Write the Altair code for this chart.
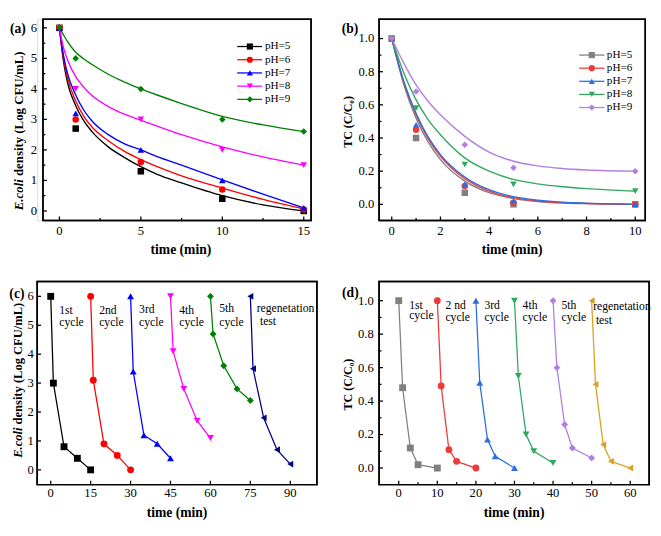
import altair as alt
import pandas as pd

FONT = "Liberation Serif"

# ---------------- (a) E. coli density vs time at different pH ----------------
A_NAMES = ["pH=5", "pH=6", "pH=7", "pH=8", "pH=9"]
A_COLORS = ["#000000", "#ff0000", "#0000ff", "#ff00ff", "#008000"]
A_SHAPES = ["square", "circle", "triangle-up", "triangle-down", "diamond"]
A_T = [0, 1, 5, 10, 15]
A_PH5 = [6, 2.7, 1.3, 0.4, 0.0]
A_PH6 = [6, 3.0, 1.6, 0.7, 0.05]
A_PH7 = [6, 3.2, 2.0, 1.0, 0.1]
A_PH8 = [6, 4.0, 3.0, 2.0, 1.5]
A_PH9 = [6, 5.0, 4.0, 3.0, 2.6]
A_FIT_T = [0, 0.25, 0.5, 1, 1.5, 2, 3, 4, 5, 6, 7.5, 10, 12.5, 15]
A_FIT5 = [6, 4.9, 4.2, 3.45, 2.95, 2.6, 2.1, 1.75, 1.45, 1.2, 0.92, 0.5, 0.2, 0.0]
A_FIT6 = [6, 5.0, 4.35, 3.6, 3.1, 2.75, 2.3, 1.95, 1.68, 1.45, 1.15, 0.75, 0.38, 0.07]
A_FIT7 = [6, 5.1, 4.5, 3.8, 3.3, 2.95, 2.5, 2.2, 2.0, 1.78, 1.5, 1.02, 0.55, 0.1]
A_FIT8 = [6, 5.35, 4.95, 4.4, 4.05, 3.78, 3.42, 3.17, 2.97, 2.78, 2.5, 2.1, 1.77, 1.5]
A_FIT9 = [6, 5.77, 5.55, 5.2, 4.98, 4.8, 4.48, 4.22, 4.0, 3.8, 3.52, 3.1, 2.82, 2.6]
A_XTICKS = [0, 5, 10, 15]
A_XMINOR = [2.5, 7.5, 12.5]
A_YTICKS = [0, 1, 2, 3, 4, 5, 6]
A_YMINOR = [0.5, 1.5, 2.5, 3.5, 4.5, 5.5]

# ---------------- (b) TC removal vs time at different pH ----------------
B_NAMES = ["pH=5", "pH=6", "pH=7", "pH=8", "pH=9"]
B_COLORS = ["#808080", "#ee3a3a", "#2a6ee0", "#30a860", "#b27ee2"]
B_SHAPES = ["square", "circle", "triangle-up", "triangle-down", "diamond"]
B_T = [0, 1, 3, 5, 10]
B_PH5 = [1, 0.40, 0.07, 0.00, 0.00]
B_PH6 = [1, 0.45, 0.11, 0.01, 0.00]
B_PH7 = [1, 0.48, 0.12, 0.02, 0.00]
B_PH8 = [1, 0.58, 0.24, 0.12, 0.08]
B_PH9 = [1, 0.68, 0.36, 0.22, 0.20]
B_FIT_T = [0, 0.5, 1, 1.5, 2, 3, 4, 5, 6, 7, 8, 10]
B_FIT5 = [1, 0.72, 0.52, 0.375, 0.27, 0.14, 0.07, 0.035, 0.017, 0.008, 0.004, 0.0]
B_FIT6 = [1, 0.735, 0.54, 0.395, 0.29, 0.155, 0.08, 0.04, 0.02, 0.01, 0.005, 0.0]
B_FIT7 = [1, 0.74, 0.55, 0.405, 0.30, 0.165, 0.088, 0.046, 0.025, 0.013, 0.007, 0.0]
B_FIT8 = [1, 0.79, 0.63, 0.51, 0.42, 0.28, 0.2, 0.15, 0.123, 0.106, 0.095, 0.08]
B_FIT9 = [1, 0.85, 0.72, 0.62, 0.54, 0.41, 0.315, 0.26, 0.232, 0.216, 0.207, 0.20]
B_XTICKS = [0, 2, 4, 6, 8, 10]
B_XMINOR = [1, 3, 5, 7, 9]
B_YTICKS = [0, 0.2, 0.4, 0.6, 0.8, 1.0]
B_YMINOR = [0.1, 0.3, 0.5, 0.7, 0.9]

# ---------------- (c) E. coli cycles ----------------
C_NAMES = ["1st", "2nd", "3rd", "4th", "5th", "regen"]
C_COLORS = ["#000000", "#ff0000", "#0000ff", "#ff00ff", "#008000", "#000080"]
C_SHAPES = ["square", "circle", "triangle-up", "triangle-down", "diamond", "triangle-left"]
C_T = [[0, 1, 5, 10, 15], [15, 16, 20, 25, 30], [30, 31, 35, 40, 45],
       [45, 46, 50, 55, 60], [60, 61, 65, 70, 75], [75, 76, 80, 85, 90]]
C_Y = [[6, 3.0, 0.8, 0.4, 0.0], [6, 3.1, 0.9, 0.5, 0.0], [6, 3.4, 1.2, 0.9, 0.4],
       [6, 4.1, 2.8, 1.7, 1.1], [6, 4.7, 3.6, 2.8, 2.4], [6, 3.5, 1.8, 0.7, 0.2]]
C_NOTE_TEXT = ["1st", "cycle", "2nd", "cycle", "3rd", "cycle", "4th", "cycle", "5th", "cycle",
               "regenetation", "test"]
C_NOTE_X = [3.2, 3.2, 18.2, 18.2, 33.2, 33.2, 48.3, 48.3, 63.3, 63.3, 77.4, 78.6]
C_NOTE_Y = [5.52, 5.10, 5.52, 5.10, 5.55, 5.10, 5.52, 5.10, 5.58, 5.10, 5.61, 5.13]
C_XTICKS = [0, 15, 30, 45, 60, 75, 90]
C_YTICKS = [0, 1, 2, 3, 4, 5, 6]

# ---------------- (d) TC cycles ----------------
D_NAMES = ["1st", "2nd", "3rd", "4th", "5th", "regen"]
D_COLORS = ["#808080", "#ee3a3a", "#2a6ee0", "#30a860", "#b27ee2", "#d9a21e"]
D_SHAPES = ["square", "circle", "triangle-up", "triangle-down", "diamond", "triangle-left"]
D_T = [[0, 1, 3, 5, 10], [10, 11, 13, 15, 20], [20, 21, 23, 25, 30],
       [30, 31, 33, 35, 40], [40, 41, 43, 45, 50], [50, 51, 53, 55, 60]]
D_Y = [[1, 0.48, 0.12, 0.02, 0.00], [1, 0.49, 0.11, 0.04, 0.00], [1, 0.51, 0.17, 0.07, 0.00],
       [1, 0.55, 0.20, 0.10, 0.03], [1, 0.60, 0.26, 0.12, 0.06], [1, 0.50, 0.14, 0.04, 0.00]]
D_NOTE_TEXT = ["1st", "cycle", "2 nd", "cycle", "3rd", "cycle", "4th", "cycle", "5th", "cycle",
               "regenetation", "test"]
D_NOTE_X = [2.7, 2.7, 12.1, 12.1, 22.2, 22.2, 32.1, 32.1, 42.2, 42.2, 50.4, 51.1]
D_NOTE_Y = [0.975, 0.912, 0.975, 0.9, 0.975, 0.9, 0.975, 0.9, 0.975, 0.9, 0.965, 0.885]
D_XTICKS = [0, 10, 20, 30, 40, 50, 60]
D_XMINOR = [5, 15, 25, 35, 45, 55]
D_YTICKS = [0, 0.2, 0.4, 0.6, 0.8, 1.0]
D_YMINOR = [0.1, 0.3, 0.5, 0.7, 0.9]

X_TITLE = "time (min)"

# black strokes for frame and ticks come through a one-entry stroke scale
INK = alt.Stroke("k:N", scale=alt.Scale(domain=["box"], range=["#000000"]), legend=None)


# ---------------- helpers ----------------
def long_df(key, names, xs_list, ys_list):
    rows = []
    for n, xs, ys in zip(names, xs_list, ys_list):
        for x, y in zip(xs, ys):
            rows.append({key: n, "t": x, "y": y})
    return pd.DataFrame(rows)


def fmt_labels(vals, fmt):
    return [format(v, fmt) for v in vals]


def vals_df(vals):
    return pd.DataFrame({"v": vals, "k": ["box"] * len(vals)})


def frame_layers(xs, ys, W, H, x0, x1, y0, y1, ox=0, sw=1.5):
    sides = alt.Chart(vals_df([x0, x1])).mark_rule(strokeWidth=sw).encode(
        x=alt.X("v:Q", scale=xs, axis=None), y=alt.value(-0.7), y2=alt.value(H + 0.7), stroke=INK)
    tops = alt.Chart(vals_df([y0, y1])).mark_rule(strokeWidth=sw).encode(
        y=alt.Y("v:Q", scale=ys, axis=None), x=alt.value(ox - 0.7), x2=alt.value(ox + W + 0.7),
        stroke=INK)
    path = pd.DataFrame({"fx": [x0, x1, x1, x0, x0], "fy": [y0, y0, y1, y1, y0],
                         "o": [0, 1, 2, 3, 4], "k": ["box"] * 5})
    box = alt.Chart(path).mark_line(strokeWidth=sw, strokeJoin="miter").encode(
        x=alt.X("fx:Q", scale=xs, axis=None), y=alt.Y("fy:Q", scale=ys, axis=None),
        order="o:Q", stroke=INK)
    return [box, sides, tops]


def axis_layers(xs, ys, W, H, xmaj, xmin, ymaj, ymin, yfmt, ygap, xlab_dy, title_dy,
                title_dx=0, ox=0):
    out = []
    for vals, ln in ((xmaj, 4), (xmin, 2.5)):
        if vals:
            out.append(alt.Chart(vals_df(vals)).mark_rule(strokeWidth=1.3).encode(
                x=alt.X("v:Q", scale=xs, axis=None), y=alt.value(H), y2=alt.value(H - ln),
                stroke=INK))
    for vals, ln in ((ymaj, 4), (ymin, 2.5)):
        if vals:
            out.append(alt.Chart(vals_df(vals)).mark_rule(strokeWidth=1.3).encode(
                y=alt.Y("v:Q", scale=ys, axis=None), x=alt.value(ox), x2=alt.value(ox + ln),
                stroke=INK))
    out.append(alt.Chart(pd.DataFrame({"v": xmaj, "lab": fmt_labels(xmaj, "d")})).mark_text(
        font=FONT, fontSize=13, align="center", baseline="middle", color="black").encode(
        x=alt.X("v:Q", scale=xs, axis=None), y=alt.value(H + xlab_dy), text="lab:N"))
    out.append(alt.Chart(pd.DataFrame({"v": ymaj, "lab": fmt_labels(ymaj, yfmt)})).mark_text(
        font=FONT, fontSize=13, align="right", baseline="middle", color="black").encode(
        y=alt.Y("v:Q", scale=ys, axis=None), x=alt.value(ox - ygap), text="lab:N"))
    out.append(alt.Chart(pd.DataFrame({"t": [X_TITLE]})).mark_text(
        font=FONT, fontSize=14, fontWeight="bold", align="center", baseline="middle", color="black").encode(
        x=alt.value(ox + W / 2 + title_dx), y=alt.value(H + title_dy), text="t:N"))
    return out


def label_layer(txt, x, y, size=14):
    return alt.Chart(pd.DataFrame({"t": [txt]})).mark_text(
        font=FONT, fontWeight="bold", fontSize=size, align="left", baseline="middle", color="black"
    ).encode(x=alt.value(x), y=alt.value(y), text="t:N")


def ecoli_title(x, anchor, fs):
    it = alt.Chart(pd.DataFrame({"t": ["E.coli"]})).mark_text(
        font=FONT, fontWeight="bold", fontStyle="italic", fontSize=fs, angle=270,
        align="right", baseline="middle", color="black"
    ).encode(x=alt.value(x), y=alt.value(anchor), text="t:N")
    rest = alt.Chart(pd.DataFrame({"t": ["density (Log CFU/mL)"]})).mark_text(
        font=FONT, fontWeight="bold", fontSize=fs, angle=270,
        align="left", baseline="middle", color="black"
    ).encode(x=alt.value(x), y=alt.value(anchor - 0.25 * fs), text="t:N")
    return [it, rest]


def tc_title(x, y, fs=12.3):
    return [alt.Chart(pd.DataFrame({"t": ["TC (C/C\u2080)"]})).mark_text(
        font=FONT, fontWeight="bold", fontSize=fs, angle=270,
        align="center", baseline="middle", color="black"
    ).encode(x=alt.value(x), y=alt.value(y), text="t:N")]


def legend_layers(key, names, colors, shapes, x1, x2, xm, xt, y0, dy, fs=11.5, size=40):
    df = pd.DataFrame({key: names, "row": list(range(len(names)))})
    base = alt.Chart(df).transform_calculate(py=f"{y0} + {dy} * datum.row")
    col = alt.Color(f"{key}:N", scale=alt.Scale(domain=names, range=colors), legend=None)
    shp = alt.Shape(f"{key}:N", scale=alt.Scale(domain=names, range=shapes), legend=None)
    py = alt.Y("py:Q", scale=None, axis=None)
    line = base.mark_rule(strokeWidth=1.3).encode(x=alt.value(x1), x2=alt.value(x2), y=py, color=col)
    pt = base.mark_point(filled=True, opacity=1, size=size).encode(x=alt.value(xm), y=py, color=col, shape=shp)
    tx = base.mark_text(font=FONT, fontSize=fs, align="left", baseline="middle", color="black").encode(
        x=alt.value(xt), y=py, text=f"{key}:N")
    return [line, pt, tx]


# ---------------- panel (a) ----------------
WA, HA, OXA = 276, 207, 6
XA0, XA1 = -1.01, 15.45
YA0, YA1 = -0.31, 6.28
xs_a = alt.Scale(domain=[XA0 - OXA * (XA1 - XA0) / WA, XA1], nice=False, zero=False)
ys_a = alt.Scale(domain=[YA0, YA1], nice=False, zero=False)
col_a = alt.Color("sa:N", scale=alt.Scale(domain=A_NAMES, range=A_COLORS), legend=None)
shp_a = alt.Shape("sa:N", scale=alt.Scale(domain=A_NAMES, range=A_SHAPES), legend=None)
fit_a = long_df("sa", A_NAMES, [A_FIT_T] * 5, [A_FIT5, A_FIT6, A_FIT7, A_FIT8, A_FIT9])
pts_a = long_df("sa", A_NAMES, [A_T] * 5, [A_PH5, A_PH6, A_PH7, A_PH8, A_PH9])
lines_a = alt.Chart(fit_a).mark_line(strokeWidth=1.4, interpolate="monotone").encode(
    x=alt.X("t:Q", scale=xs_a, axis=None), y=alt.Y("y:Q", scale=ys_a, axis=None), color=col_a,
    order="t:Q")
points_a = alt.Chart(pts_a).mark_point(filled=True, opacity=1, size=45).encode(
    x=alt.X("t:Q", scale=xs_a, axis=None), y=alt.Y("y:Q", scale=ys_a, axis=None),
    color=col_a, shape=shp_a)
panel_a = alt.layer(
    lines_a, points_a,
    *legend_layers("sa", A_NAMES, A_COLORS, A_SHAPES, OXA + 200, OXA + 225.5, OXA + 213,
                   OXA + 228.5, 28, 13.6),
    label_layer("(a)", OXA - 34, 10),
    *ecoli_title(OXA - 25, 164.6, 13.2),
    *axis_layers(xs_a, ys_a, WA, HA, A_XTICKS, A_XMINOR, A_YTICKS, A_YMINOR, "d", 6, 11, 30.5,
                 4, OXA),
    *frame_layers(xs_a, ys_a, WA, HA, XA0, XA1, YA0, YA1, OXA),
).properties(width=WA + OXA, height=HA)

# ---------------- panel (b) ----------------
WB, HB = 274, 207
XB0, XB1, YB0, YB1 = -0.52, 10.41, -0.097, 1.116
xs_b = alt.Scale(domain=[XB0, XB1], nice=False, zero=False)
ys_b = alt.Scale(domain=[YB0, YB1], nice=False, zero=False)
col_b = alt.Color("sb:N", scale=alt.Scale(domain=B_NAMES, range=B_COLORS), legend=None)
shp_b = alt.Shape("sb:N", scale=alt.Scale(domain=B_NAMES, range=B_SHAPES), legend=None)
fit_b = long_df("sb", B_NAMES, [B_FIT_T] * 5, [B_FIT5, B_FIT6, B_FIT7, B_FIT8, B_FIT9])
pts_b = long_df("sb", B_NAMES, [B_T] * 5, [B_PH5, B_PH6, B_PH7, B_PH8, B_PH9])
lines_b = alt.Chart(fit_b).mark_line(strokeWidth=1.4, interpolate="monotone").encode(
    x=alt.X("t:Q", scale=xs_b, axis=None), y=alt.Y("y:Q", scale=ys_b, axis=None), color=col_b,
    order="t:Q")
points_b = alt.Chart(pts_b).mark_point(filled=True, opacity=1, size=45).encode(
    x=alt.X("t:Q", scale=xs_b, axis=None), y=alt.Y("y:Q", scale=ys_b, axis=None),
    color=col_b, shape=shp_b)
panel_b = alt.layer(
    lines_b, points_b,
    *legend_layers("sb", B_NAMES, B_COLORS, B_SHAPES, 206, 232, 219, 234.5, 36.8, 13.5),
    label_layer("(b)", -38.4, 10),
    *tc_title(-32, 105.6),
    *axis_layers(xs_b, ys_b, WB, HB, B_XTICKS, B_XMINOR, B_YTICKS, B_YMINOR, ".1f", 5, 11, 30.5),
    *frame_layers(xs_b, ys_b, WB, HB, XB0, XB1, YB0, YB1),
).properties(width=WB, height=HB)

# ---------------- panel (c) ----------------
WC, HC = 288, 209
XC0, XC1, YC0, YC1 = -5.1, 100.0, -0.51, 6.51
xs_c = alt.Scale(domain=[XC0, XC1], nice=False, zero=False)
ys_c = alt.Scale(domain=[YC0, YC1], nice=False, zero=False)
col_c = alt.Color("sc:N", scale=alt.Scale(domain=C_NAMES, range=C_COLORS), legend=None)
shp_c = alt.Shape("sc:N", scale=alt.Scale(domain=C_NAMES, range=C_SHAPES), legend=None)
dat_c = long_df("sc", C_NAMES, C_T, C_Y)
lines_c = alt.Chart(dat_c).mark_line(strokeWidth=1.3).encode(
    x=alt.X("t:Q", scale=xs_c, axis=None), y=alt.Y("y:Q", scale=ys_c, axis=None), color=col_c,
    order="t:Q")
points_c = alt.Chart(dat_c).mark_point(filled=True, opacity=1, size=50).encode(
    x=alt.X("t:Q", scale=xs_c, axis=None), y=alt.Y("y:Q", scale=ys_c, axis=None),
    color=col_c, shape=shp_c)
notes_c = alt.Chart(pd.DataFrame({"t": C_NOTE_TEXT, "x": C_NOTE_X, "y": C_NOTE_Y})).mark_text(
    font=FONT, fontSize=12, align="left", baseline="middle", color="black").encode(
    x=alt.X("x:Q", scale=xs_c, axis=None), y=alt.Y("y:Q", scale=ys_c, axis=None), text="t:N")
panel_c = alt.layer(
    lines_c, points_c, notes_c,
    label_layer("(c)", -28.6, 13),
    *ecoli_title(-20, 150.3, 12.9),
    *axis_layers(xs_c, ys_c, WC, HC, C_XTICKS, [], C_YTICKS, [], "d", 3.5, 9, 29.5),
    *frame_layers(xs_c, ys_c, WC, HC, XC0, XC1, YC0, YC1),
).properties(width=WC, height=HC)

# ---------------- panel (d) ----------------
WD, HD = 278, 209
XD0, XD1, YD0, YD1 = -5.1, 64.9, -0.099, 1.114
xs_d = alt.Scale(domain=[XD0, XD1], nice=False, zero=False)
ys_d = alt.Scale(domain=[YD0, YD1], nice=False, zero=False)
col_d = alt.Color("sd:N", scale=alt.Scale(domain=D_NAMES, range=D_COLORS), legend=None)
shp_d = alt.Shape("sd:N", scale=alt.Scale(domain=D_NAMES, range=D_SHAPES), legend=None)
dat_d = long_df("sd", D_NAMES, D_T, D_Y)
lines_d = alt.Chart(dat_d).mark_line(strokeWidth=1.3).encode(
    x=alt.X("t:Q", scale=xs_d, axis=None), y=alt.Y("y:Q", scale=ys_d, axis=None), color=col_d,
    order="t:Q")
points_d = alt.Chart(dat_d).mark_point(filled=True, opacity=1, size=50).encode(
    x=alt.X("t:Q", scale=xs_d, axis=None), y=alt.Y("y:Q", scale=ys_d, axis=None),
    color=col_d, shape=shp_d)
notes_d = alt.Chart(pd.DataFrame({"t": D_NOTE_TEXT, "x": D_NOTE_X, "y": D_NOTE_Y})).mark_text(
    font=FONT, fontSize=12, align="left", baseline="middle", color="black").encode(
    x=alt.X("x:Q", scale=xs_d, axis=None), y=alt.Y("y:Q", scale=ys_d, axis=None), text="t:N")
panel_d = alt.layer(
    lines_d, points_d, notes_d,
    label_layer("(d)", -38.1, 12),
    *tc_title(-32, 106),
    *axis_layers(xs_d, ys_d, WD, HD, D_XTICKS, D_XMINOR, D_YTICKS, D_YMINOR, ".1f", 5.5, 9, 29.5),
    *frame_layers(xs_d, ys_d, WD, HD, XD0, XD1, YD0, YD1),
).properties(width=WD, height=HD)

# ---------------- layout ----------------
row1 = alt.hconcat(panel_a, panel_b, spacing=27).resolve_scale(
    color="independent", shape="independent")
row2 = alt.hconcat(panel_c, panel_d, spacing=21).resolve_scale(
    color="independent", shape="independent")

chart = alt.vconcat(row1, row2, spacing=21).resolve_scale(
    color="independent", shape="independent"
).properties(
    padding={"left": 0, "top": 0, "right": 0, "bottom": 0}
)

chart.save("out.html", embed_options={"renderer": "svg", "actions": False})
